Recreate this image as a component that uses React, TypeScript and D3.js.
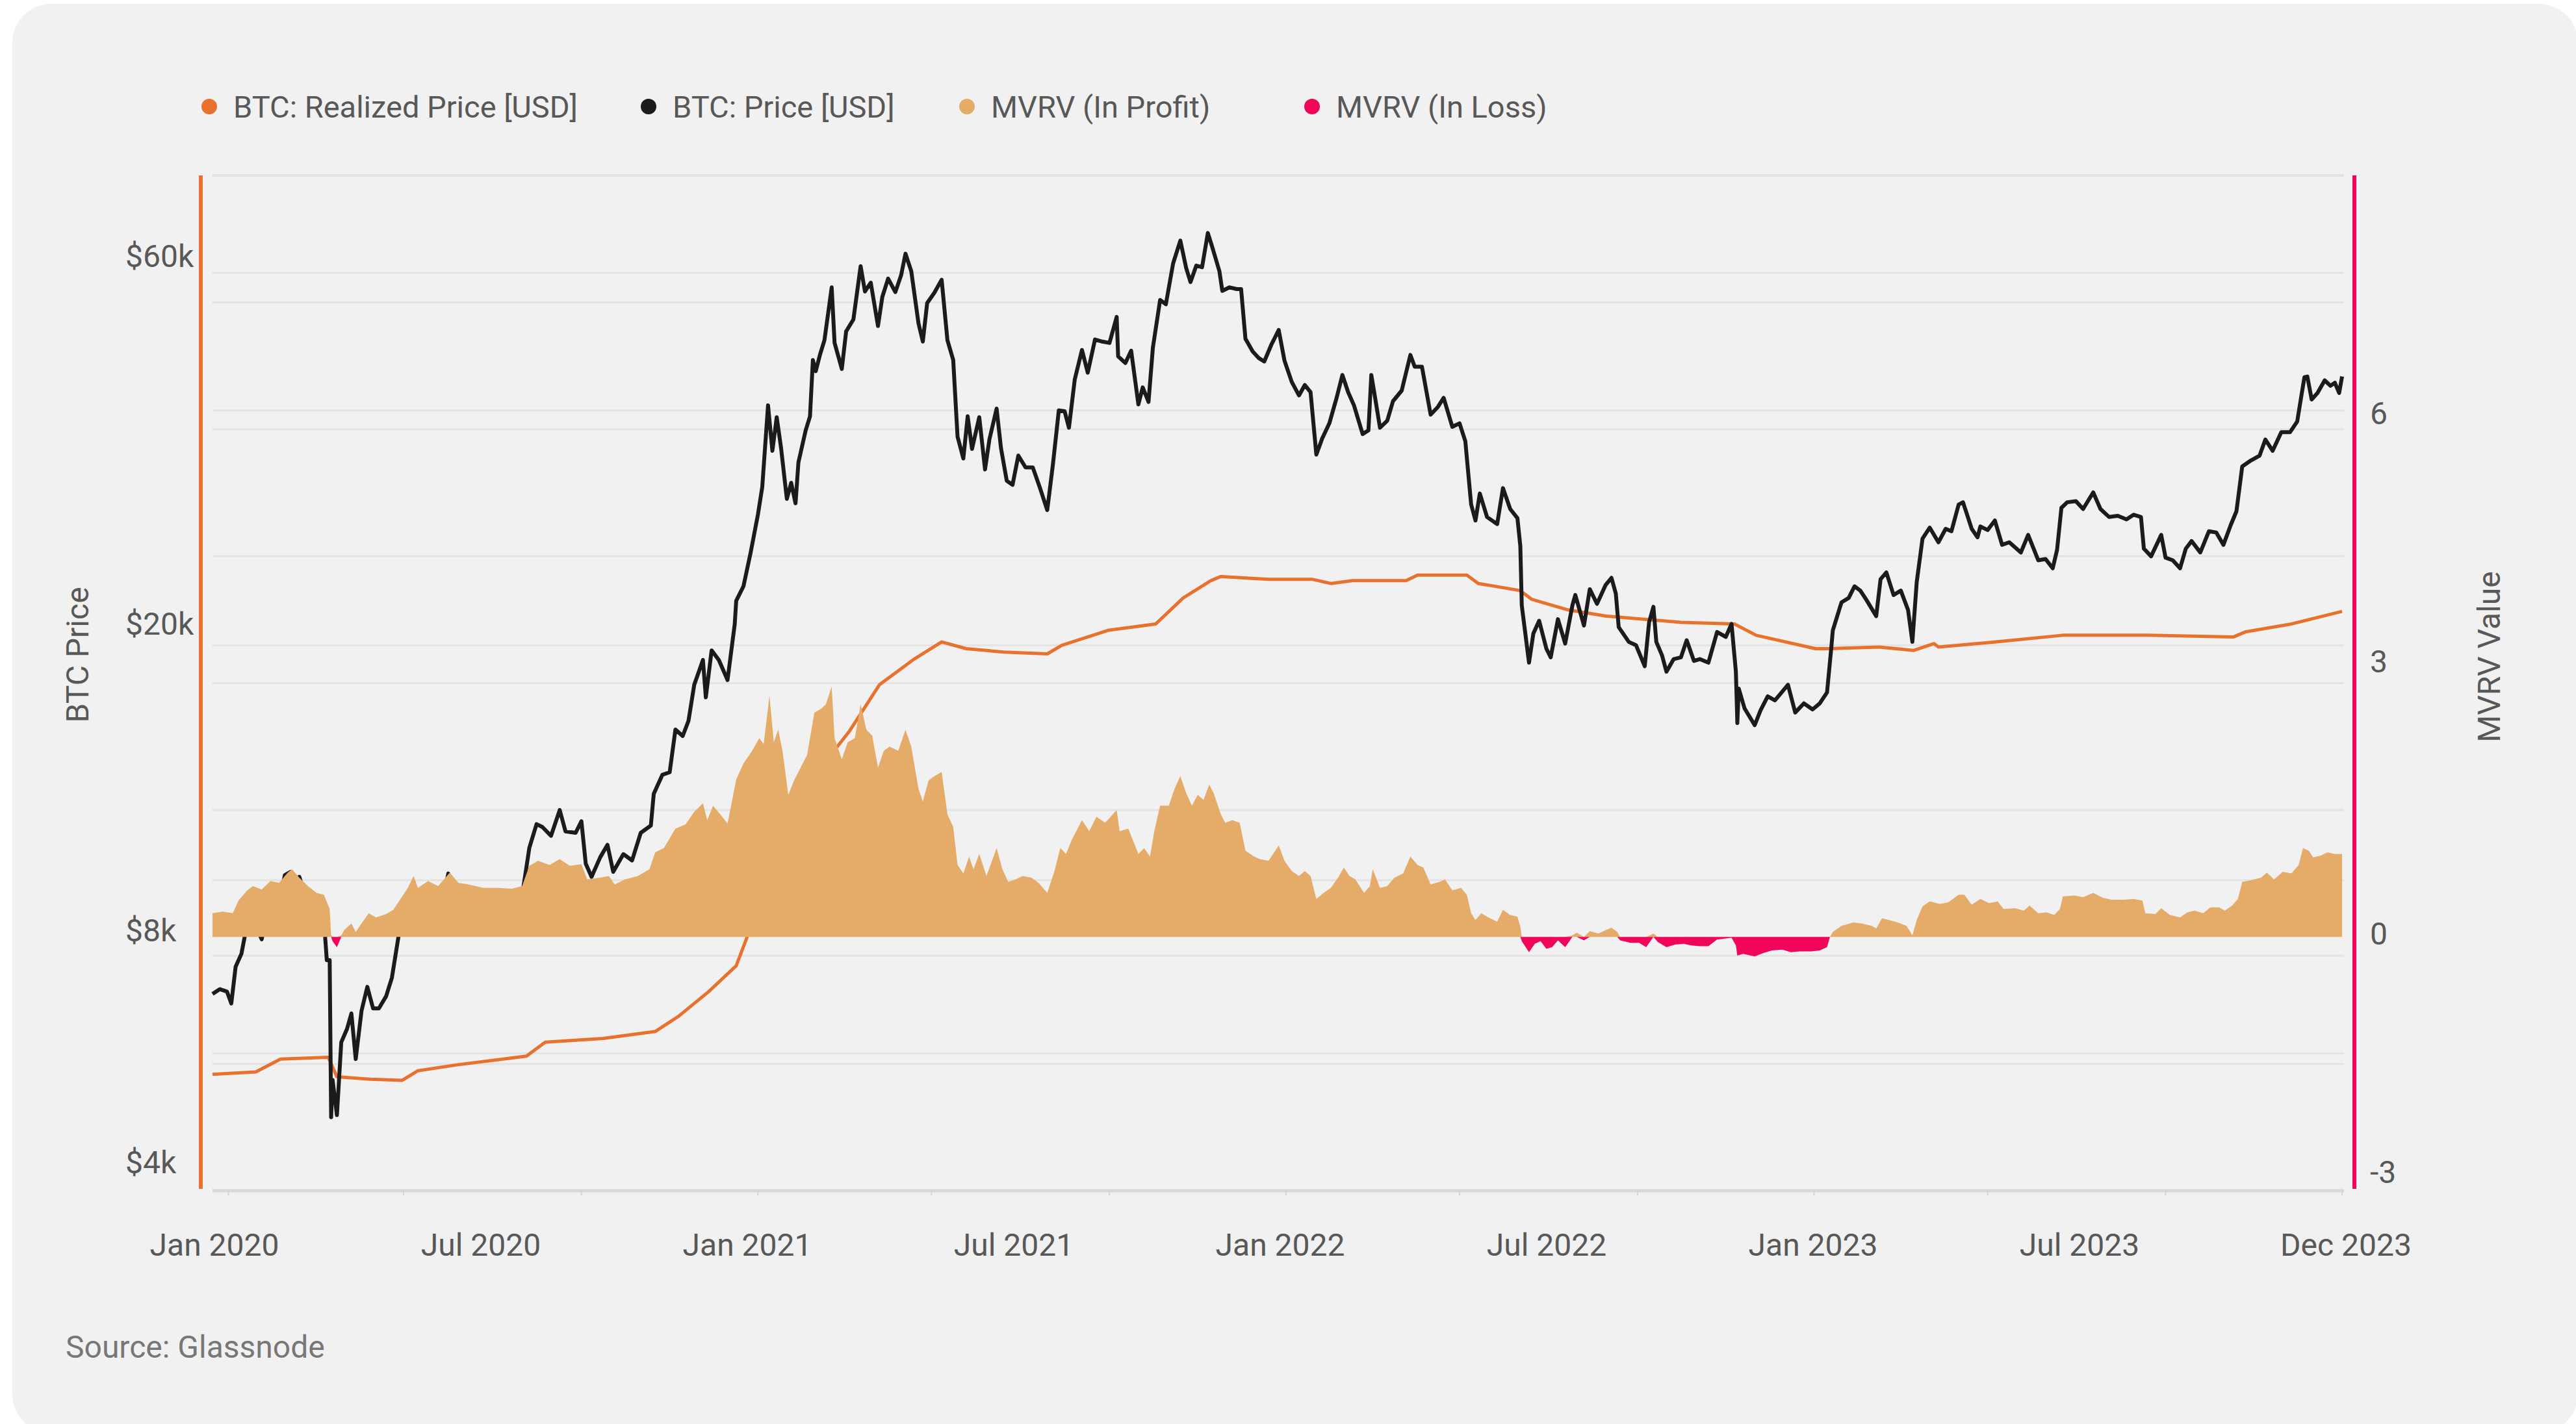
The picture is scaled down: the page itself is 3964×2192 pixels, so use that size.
import React from 'react';
import * as d3 from 'd3';

// canvas size
const width = 3964;
const height = 2192;

// BTC price [USD]
const btcPrice: [string, number][] = [
  ['2019-12-21', 7150], ['2019-12-26', 7250], ['2019-12-31', 7200], ['2020-01-03', 6950], ['2020-01-06', 7750],
  ['2020-01-10', 8050], ['2020-01-14', 8800], ['2020-01-18', 8900], ['2020-01-24', 8400], ['2020-01-30', 9500],
  ['2020-02-04', 9150], ['2020-02-09', 10150], ['2020-02-13', 10250], ['2020-02-17', 9700], ['2020-02-19', 10100],
  ['2020-02-25', 9300], ['2020-03-02', 8900], ['2020-03-07', 8900], ['2020-03-09', 7900], ['2020-03-11', 7900],
  ['2020-03-12', 4970], ['2020-03-13', 5550], ['2020-03-16', 5000], ['2020-03-19', 6200], ['2020-03-23', 6450],
  ['2020-03-26', 6750], ['2020-03-29', 5900], ['2020-04-02', 6800], ['2020-04-06', 7300], ['2020-04-10', 6850],
  ['2020-04-14', 6850], ['2020-04-19', 7100], ['2020-04-23', 7500], ['2020-04-29', 8800], ['2020-05-04', 8900],
  ['2020-05-08', 9950], ['2020-05-10', 8600], ['2020-05-16', 9400], ['2020-05-20', 9500], ['2020-05-25', 8800],
  ['2020-06-01', 10200], ['2020-06-06', 9650], ['2020-06-11', 9300], ['2020-06-18', 9400], ['2020-06-25', 9250],
  ['2020-07-01', 9200], ['2020-07-08', 9400], ['2020-07-15', 9200], ['2020-07-22', 9550], ['2020-07-27', 11000],
  ['2020-08-01', 11800], ['2020-08-05', 11700], ['2020-08-11', 11400], ['2020-08-17', 12300], ['2020-08-21', 11550],
  ['2020-08-28', 11500], ['2020-09-01', 11900], ['2020-09-04', 10500], ['2020-09-08', 10100], ['2020-09-14', 10700],
  ['2020-09-19', 11100], ['2020-09-23', 10250], ['2020-09-30', 10800], ['2020-10-06', 10600], ['2020-10-12', 11500],
  ['2020-10-19', 11750], ['2020-10-21', 12900], ['2020-10-27', 13650], ['2020-11-01', 13750], ['2020-11-05', 15600],
  ['2020-11-10', 15300], ['2020-11-14', 16000], ['2020-11-18', 17800], ['2020-11-24', 19150], ['2020-11-26', 17150],
  ['2020-11-30', 19700], ['2020-12-05', 19150], ['2020-12-11', 18050], ['2020-12-16', 21300], ['2020-12-17', 22800],
  ['2020-12-22', 23800], ['2020-12-27', 26300], ['2021-01-01', 29400], ['2021-01-04', 31900], ['2021-01-08', 40600],
  ['2021-01-11', 35500], ['2021-01-14', 39200], ['2021-01-17', 35800], ['2021-01-21', 30800], ['2021-01-24', 32300],
  ['2021-01-27', 30400], ['2021-01-29', 34300], ['2021-02-03', 37700], ['2021-02-06', 39300], ['2021-02-08', 46400],
  ['2021-02-10', 44900], ['2021-02-13', 47200], ['2021-02-16', 49200], ['2021-02-21', 57500], ['2021-02-23', 48800],
  ['2021-02-28', 45200], ['2021-03-03', 50500], ['2021-03-08', 52300], ['2021-03-13', 61200], ['2021-03-16', 56800],
  ['2021-03-20', 58300], ['2021-03-25', 51300], ['2021-03-28', 55900], ['2021-04-01', 59000], ['2021-04-06', 56700],
  ['2021-04-10', 59600], ['2021-04-13', 63500], ['2021-04-17', 60300], ['2021-04-22', 51700], ['2021-04-25', 49000],
  ['2021-04-28', 54900], ['2021-05-03', 56600], ['2021-05-08', 58800], ['2021-05-12', 49200], ['2021-05-16', 46400],
  ['2021-05-19', 37000], ['2021-05-23', 34700], ['2021-05-26', 39300], ['2021-05-29', 35700], ['2021-06-03', 39200],
  ['2021-06-07', 33600], ['2021-06-10', 36700], ['2021-06-15', 40200], ['2021-06-18', 35800], ['2021-06-22', 32500],
  ['2021-06-26', 32100], ['2021-06-30', 35000], ['2021-07-05', 33800], ['2021-07-10', 33800], ['2021-07-15', 31800],
  ['2021-07-20', 29800], ['2021-07-24', 34200], ['2021-07-28', 40000], ['2021-08-01', 39900], ['2021-08-04', 38000],
  ['2021-08-08', 43800], ['2021-08-13', 47800], ['2021-08-17', 44700], ['2021-08-22', 49300], ['2021-08-27', 49000],
  ['2021-09-01', 48800], ['2021-09-06', 52700], ['2021-09-07', 46900], ['2021-09-12', 46000], ['2021-09-16', 47700],
  ['2021-09-21', 40700], ['2021-09-24', 42800], ['2021-09-28', 41000], ['2021-10-01', 48100], ['2021-10-06', 55400],
  ['2021-10-10', 54700], ['2021-10-15', 61700], ['2021-10-20', 66000], ['2021-10-24', 60900], ['2021-10-27', 58400],
  ['2021-10-31', 61300], ['2021-11-04', 61000], ['2021-11-08', 67500], ['2021-11-11', 64800], ['2021-11-16', 60300],
  ['2021-11-18', 56900], ['2021-11-23', 57500], ['2021-11-28', 57200], ['2021-12-01', 57200], ['2021-12-04', 49400],
  ['2021-12-09', 47600], ['2021-12-13', 46700], ['2021-12-17', 46200], ['2021-12-22', 48600], ['2021-12-27', 50700],
  ['2021-12-31', 46300], ['2022-01-05', 43500], ['2022-01-10', 41800], ['2022-01-14', 43100], ['2022-01-18', 42200],
  ['2022-01-22', 35100], ['2022-01-26', 36800], ['2022-01-31', 38500], ['2022-02-05', 41500], ['2022-02-09', 44400],
  ['2022-02-13', 42200], ['2022-02-17', 40600], ['2022-02-23', 37300], ['2022-02-27', 37700], ['2022-03-01', 44400],
  ['2022-03-03', 42200], ['2022-03-07', 38000], ['2022-03-12', 38800], ['2022-03-16', 41100], ['2022-03-22', 42400],
  ['2022-03-28', 47100], ['2022-03-31', 45500], ['2022-04-05', 45500], ['2022-04-11', 39500], ['2022-04-16', 40400],
  ['2022-04-20', 41500], ['2022-04-26', 38100], ['2022-05-01', 38500], ['2022-05-05', 36500], ['2022-05-09', 30300],
  ['2022-05-12', 28900], ['2022-05-15', 31300], ['2022-05-20', 29200], ['2022-05-27', 28600], ['2022-05-31', 31800],
  ['2022-06-05', 29900], ['2022-06-10', 29100], ['2022-06-12', 26800], ['2022-06-13', 22500], ['2022-06-18', 19000],
  ['2022-06-21', 20700], ['2022-06-25', 21500], ['2022-06-30', 19800], ['2022-07-03', 19300], ['2022-07-08', 21600],
  ['2022-07-13', 20100], ['2022-07-18', 22500], ['2022-07-20', 23200], ['2022-07-26', 21200], ['2022-07-30', 23600],
  ['2022-08-04', 22600], ['2022-08-10', 23900], ['2022-08-14', 24400], ['2022-08-17', 23300], ['2022-08-19', 21100],
  ['2022-08-26', 20200], ['2022-08-31', 20000], ['2022-09-06', 18800], ['2022-09-09', 21400], ['2022-09-12', 22400],
  ['2022-09-14', 20200], ['2022-09-18', 19400], ['2022-09-21', 18500], ['2022-09-26', 19200], ['2022-10-01', 19300],
  ['2022-10-05', 20300], ['2022-10-10', 19100], ['2022-10-14', 19200], ['2022-10-20', 19000], ['2022-10-26', 20800],
  ['2022-11-01', 20500], ['2022-11-05', 21300], ['2022-11-08', 18500], ['2022-11-09', 15900], ['2022-11-10', 17600],
  ['2022-11-14', 16600], ['2022-11-21', 15800], ['2022-11-25', 16500], ['2022-11-30', 17200], ['2022-12-05', 17000],
  ['2022-12-14', 17800], ['2022-12-19', 16400], ['2022-12-25', 16850], ['2022-12-31', 16550], ['2023-01-05', 16850],
  ['2023-01-10', 17400], ['2023-01-13', 19900], ['2023-01-14', 20900], ['2023-01-20', 22700], ['2023-01-25', 23000],
  ['2023-01-29', 23800], ['2023-02-02', 23500], ['2023-02-06', 22900], ['2023-02-13', 21800], ['2023-02-16', 24300],
  ['2023-02-20', 24800], ['2023-02-25', 23200], ['2023-03-02', 23500], ['2023-03-07', 22200], ['2023-03-10', 20200],
  ['2023-03-13', 24100], ['2023-03-17', 27400], ['2023-03-22', 28300], ['2023-03-28', 27100], ['2023-04-02', 28200],
  ['2023-04-06', 28000], ['2023-04-11', 30300], ['2023-04-14', 30500], ['2023-04-20', 28200], ['2023-04-24', 27500],
  ['2023-04-26', 28400], ['2023-05-01', 28100], ['2023-05-06', 28900], ['2023-05-11', 26900], ['2023-05-16', 27100],
  ['2023-05-24', 26300], ['2023-05-29', 27700], ['2023-06-05', 25700], ['2023-06-10', 25800], ['2023-06-15', 25100],
  ['2023-06-18', 26500], ['2023-06-21', 30000], ['2023-06-25', 30500], ['2023-07-01', 30600], ['2023-07-06', 29900],
  ['2023-07-13', 31400], ['2023-07-18', 29900], ['2023-07-24', 29200], ['2023-07-30', 29300], ['2023-08-05', 29000],
  ['2023-08-10', 29400], ['2023-08-15', 29200], ['2023-08-17', 26600], ['2023-08-22', 26000], ['2023-08-29', 27700],
  ['2023-09-01', 25900], ['2023-09-06', 25700], ['2023-09-11', 25100], ['2023-09-15', 26600], ['2023-09-19', 27200],
  ['2023-09-25', 26300], ['2023-10-01', 28000], ['2023-10-06', 27900], ['2023-10-11', 26900], ['2023-10-16', 28500],
  ['2023-10-20', 29700], ['2023-10-24', 33900], ['2023-10-30', 34500], ['2023-11-05', 35000], ['2023-11-09', 36700],
  ['2023-11-14', 35500], ['2023-11-20', 37500], ['2023-11-26', 37500], ['2023-12-01', 38700], ['2023-12-04', 41900],
  ['2023-12-06', 44100], ['2023-12-08', 44200], ['2023-12-11', 41300], ['2023-12-15', 42100], ['2023-12-20', 43700],
  ['2023-12-24', 43000], ['2023-12-27', 43400], ['2023-12-30', 42100], ['2024-01-01', 44200],
];

// BTC realized price [USD]
const realizedPrice: [string, number][] = [
  ['2019-12-21', 5640], ['2020-01-20', 5680], ['2020-02-06', 5900], ['2020-03-10', 5930], ['2020-03-16', 5600],
  ['2020-04-08', 5560], ['2020-04-30', 5540], ['2020-05-11', 5700], ['2020-06-07', 5800], ['2020-07-25', 5950],
  ['2020-08-07', 6200], ['2020-09-16', 6270], ['2020-10-22', 6400], ['2020-11-07', 6690], ['2020-11-28', 7200],
  ['2020-12-17', 7770], ['2020-12-25', 8500], ['2021-01-10', 10000], ['2021-01-25', 11500], ['2021-02-10', 13300],
  ['2021-02-22', 14600], ['2021-03-05', 15500], ['2021-03-26', 17800], ['2021-04-19', 19200], ['2021-05-08', 20200],
  ['2021-05-25', 19800], ['2021-06-20', 19600], ['2021-07-20', 19500], ['2021-07-30', 20000], ['2021-08-31', 20900],
  ['2021-10-03', 21300], ['2021-10-22', 23000], ['2021-11-10', 24200], ['2021-11-17', 24500], ['2021-12-20', 24300],
  ['2022-01-19', 24300], ['2022-02-01', 24000], ['2022-02-16', 24200], ['2022-03-25', 24200], ['2022-04-02', 24600],
  ['2022-05-06', 24600], ['2022-05-14', 24000], ['2022-06-12', 23500], ['2022-06-20', 22900], ['2022-07-15', 22200],
  ['2022-08-10', 21800], ['2022-10-01', 21400], ['2022-11-07', 21300], ['2022-11-22', 20600], ['2023-01-02', 19800],
  ['2023-01-11', 19800], ['2023-02-15', 19900], ['2023-03-11', 19700], ['2023-03-25', 20100], ['2023-03-28', 19900],
  ['2023-05-07', 20200], ['2023-06-22', 20600], ['2023-08-19', 20600], ['2023-10-18', 20500], ['2023-10-26', 20800],
  ['2023-11-27', 21300], ['2024-01-01', 22100],
];

// MVRV value (above 0 = in profit, below 0 = in loss)
const mvrv: [string, number][] = [
  ['2019-12-21', 0.28], ['2019-12-28', 0.3], ['2020-01-04', 0.28], ['2020-01-08', 0.43], ['2020-01-14', 0.55],
  ['2020-01-18', 0.6], ['2020-01-24', 0.56], ['2020-01-30', 0.66], ['2020-02-05', 0.64], ['2020-02-11', 0.76],
  ['2020-02-14', 0.8], ['2020-02-19', 0.7], ['2020-02-25', 0.6], ['2020-03-02', 0.52], ['2020-03-07', 0.5],
  ['2020-03-11', 0.33], ['2020-03-12', 0.02], ['2020-03-13', -0.05], ['2020-03-16', -0.12], ['2020-03-19', 0.02],
  ['2020-03-21', 0.08], ['2020-03-26', 0.16], ['2020-03-29', 0.06], ['2020-04-02', 0.16], ['2020-04-07', 0.28],
  ['2020-04-12', 0.23], ['2020-04-19', 0.27], ['2020-04-24', 0.32], ['2020-04-29', 0.45], ['2020-05-04', 0.58],
  ['2020-05-08', 0.72], ['2020-05-11', 0.58], ['2020-05-18', 0.66], ['2020-05-25', 0.6], ['2020-06-02', 0.76],
  ['2020-06-08', 0.64], ['2020-06-15', 0.62], ['2020-06-25', 0.58], ['2020-07-05', 0.58], ['2020-07-15', 0.57],
  ['2020-07-22', 0.6], ['2020-07-27', 0.84], ['2020-08-02', 0.9], ['2020-08-10', 0.85], ['2020-08-17', 0.92],
  ['2020-08-24', 0.84], ['2020-09-01', 0.86], ['2020-09-05', 0.68], ['2020-09-14', 0.7], ['2020-09-20', 0.72],
  ['2020-09-24', 0.62], ['2020-10-01', 0.68], ['2020-10-10', 0.72], ['2020-10-18', 0.8], ['2020-10-22', 1.0],
  ['2020-10-28', 1.05], ['2020-11-05', 1.28], ['2020-11-12', 1.33], ['2020-11-18', 1.48], ['2020-11-24', 1.58],
  ['2020-11-27', 1.38], ['2020-12-01', 1.55], ['2020-12-06', 1.45], ['2020-12-11', 1.34], ['2020-12-17', 1.86],
  ['2020-12-22', 2.05], ['2020-12-28', 2.2], ['2021-01-02', 2.35], ['2021-01-05', 2.28], ['2021-01-09', 2.85],
  ['2021-01-12', 2.3], ['2021-01-15', 2.45], ['2021-01-18', 2.2], ['2021-01-22', 1.68], ['2021-01-26', 1.85],
  ['2021-01-29', 1.95], ['2021-02-04', 2.15], ['2021-02-09', 2.65], ['2021-02-14', 2.7], ['2021-02-17', 2.75],
  ['2021-02-21', 2.96], ['2021-02-23', 2.35], ['2021-02-28', 2.1], ['2021-03-04', 2.3], ['2021-03-09', 2.35],
  ['2021-03-13', 2.75], ['2021-03-17', 2.45], ['2021-03-21', 2.38], ['2021-03-25', 2.0], ['2021-03-29', 2.2],
  ['2021-04-02', 2.25], ['2021-04-08', 2.2], ['2021-04-13', 2.45], ['2021-04-17', 2.25], ['2021-04-22', 1.75],
  ['2021-04-25', 1.6], ['2021-04-29', 1.85], ['2021-05-03', 1.9], ['2021-05-08', 1.95], ['2021-05-12', 1.45],
  ['2021-05-16', 1.3], ['2021-05-19', 0.85], ['2021-05-23', 0.75], ['2021-05-27', 0.95], ['2021-05-30', 0.8],
  ['2021-06-03', 0.98], ['2021-06-08', 0.72], ['2021-06-15', 1.05], ['2021-06-19', 0.8], ['2021-06-23', 0.65],
  ['2021-06-28', 0.68], ['2021-07-03', 0.72], ['2021-07-09', 0.7], ['2021-07-14', 0.64], ['2021-07-20', 0.52],
  ['2021-07-25', 0.78], ['2021-07-29', 1.05], ['2021-08-02', 0.98], ['2021-08-06', 1.15], ['2021-08-13', 1.38],
  ['2021-08-18', 1.25], ['2021-08-23', 1.42], ['2021-08-29', 1.35], ['2021-09-06', 1.5], ['2021-09-08', 1.25],
  ['2021-09-14', 1.28], ['2021-09-21', 0.98], ['2021-09-25', 1.05], ['2021-09-29', 0.95], ['2021-10-02', 1.25],
  ['2021-10-06', 1.55], ['2021-10-12', 1.55], ['2021-10-16', 1.75], ['2021-10-20', 1.9], ['2021-10-24', 1.7],
  ['2021-10-28', 1.55], ['2021-11-01', 1.68], ['2021-11-05', 1.62], ['2021-11-09', 1.8], ['2021-11-12', 1.7],
  ['2021-11-17', 1.45], ['2021-11-20', 1.35], ['2021-11-25', 1.38], ['2021-11-30', 1.35], ['2021-12-04', 1.02],
  ['2021-12-10', 0.95], ['2021-12-14', 0.92], ['2021-12-20', 0.9], ['2021-12-27', 1.08], ['2021-12-31', 0.9],
  ['2022-01-05', 0.78], ['2022-01-10', 0.72], ['2022-01-14', 0.78], ['2022-01-18', 0.72], ['2022-01-22', 0.45],
  ['2022-01-27', 0.52], ['2022-02-01', 0.58], ['2022-02-06', 0.7], ['2022-02-10', 0.82], ['2022-02-14', 0.72],
  ['2022-02-18', 0.68], ['2022-02-24', 0.52], ['2022-02-28', 0.6], ['2022-03-02', 0.8], ['2022-03-07', 0.58],
  ['2022-03-12', 0.6], ['2022-03-17', 0.7], ['2022-03-23', 0.75], ['2022-03-28', 0.95], ['2022-04-02', 0.85],
  ['2022-04-06', 0.82], ['2022-04-11', 0.62], ['2022-04-17', 0.65], ['2022-04-21', 0.68], ['2022-04-26', 0.55],
  ['2022-05-02', 0.58], ['2022-05-06', 0.5], ['2022-05-09', 0.28], ['2022-05-12', 0.2], ['2022-05-16', 0.28],
  ['2022-05-22', 0.22], ['2022-05-27', 0.18], ['2022-05-31', 0.32], ['2022-06-05', 0.26], ['2022-06-10', 0.24],
  ['2022-06-12', 0.12], ['2022-06-13', -0.05], ['2022-06-18', -0.18], ['2022-06-22', -0.08], ['2022-06-26', -0.05],
  ['2022-06-30', -0.14], ['2022-07-04', -0.12], ['2022-07-08', -0.04], ['2022-07-13', -0.12], ['2022-07-18', 0.02],
  ['2022-07-21', 0.05], ['2022-07-26', -0.04], ['2022-07-30', 0.07], ['2022-08-05', 0.04], ['2022-08-10', 0.08],
  ['2022-08-14', 0.11], ['2022-08-18', 0.06], ['2022-08-20', -0.04], ['2022-08-27', -0.07], ['2022-09-02', -0.07],
  ['2022-09-07', -0.12], ['2022-09-12', 0.04], ['2022-09-15', -0.06], ['2022-09-21', -0.12], ['2022-09-27', -0.09],
  ['2022-10-03', -0.08], ['2022-10-08', -0.1], ['2022-10-14', -0.11], ['2022-10-20', -0.11], ['2022-10-26', -0.03],
  ['2022-11-05', -0.01], ['2022-11-08', -0.1], ['2022-11-09', -0.22], ['2022-11-13', -0.2], ['2022-11-21', -0.23],
  ['2022-11-27', -0.19], ['2022-12-03', -0.16], ['2022-12-10', -0.15], ['2022-12-16', -0.18], ['2022-12-22', -0.17],
  ['2022-12-30', -0.17], ['2023-01-05', -0.16], ['2023-01-10', -0.12], ['2023-01-12', 0.0], ['2023-01-14', 0.06],
  ['2023-01-20', 0.13], ['2023-01-28', 0.17], ['2023-02-03', 0.16], ['2023-02-10', 0.13], ['2023-02-13', 0.1],
  ['2023-02-17', 0.22], ['2023-02-22', 0.2], ['2023-02-28', 0.17], ['2023-03-06', 0.13], ['2023-03-10', 0.02],
  ['2023-03-13', 0.2], ['2023-03-17', 0.36], ['2023-03-22', 0.42], ['2023-03-29', 0.39], ['2023-04-04', 0.41],
  ['2023-04-11', 0.5], ['2023-04-15', 0.5], ['2023-04-20', 0.38], ['2023-04-26', 0.45], ['2023-05-02', 0.4],
  ['2023-05-08', 0.42], ['2023-05-12', 0.33], ['2023-05-20', 0.34], ['2023-05-26', 0.31], ['2023-05-30', 0.37],
  ['2023-06-05', 0.28], ['2023-06-11', 0.29], ['2023-06-16', 0.26], ['2023-06-20', 0.33], ['2023-06-22', 0.48],
  ['2023-06-30', 0.49], ['2023-07-06', 0.47], ['2023-07-13', 0.52], ['2023-07-20', 0.46], ['2023-07-26', 0.44],
  ['2023-08-03', 0.44], ['2023-08-10', 0.45], ['2023-08-16', 0.43], ['2023-08-18', 0.28], ['2023-08-25', 0.27],
  ['2023-08-29', 0.34], ['2023-09-04', 0.26], ['2023-09-11', 0.23], ['2023-09-16', 0.29], ['2023-09-21', 0.31],
  ['2023-09-27', 0.28], ['2023-10-02', 0.35], ['2023-10-08', 0.35], ['2023-10-12', 0.31], ['2023-10-17', 0.37],
  ['2023-10-21', 0.45], ['2023-10-24', 0.65], ['2023-10-30', 0.67], ['2023-11-06', 0.7], ['2023-11-10', 0.76],
  ['2023-11-15', 0.68], ['2023-11-21', 0.77], ['2023-11-27', 0.75], ['2023-12-02', 0.85], ['2023-12-05', 1.05],
  ['2023-12-09', 1.02], ['2023-12-12', 0.94], ['2023-12-17', 0.96], ['2023-12-22', 1.0], ['2023-12-27', 0.98],
  ['2024-01-01', 0.98],
];

// axis ticks and labels
const xLabels = ['Jan 2020', 'Jul 2020', 'Jan 2021', 'Jul 2021', 'Jan 2022', 'Jul 2022', 'Jan 2023', 'Jul 2023', 'Dec 2023'];
const priceTicks = [4000, 8000, 20000, 60000];
const priceTickLabels = ['$4k', '$8k', '$20k', '$60k'];
const priceGrid = [6000, 8000, 10000, 20000, 40000, 60000, 80000];
const mvrvTicks = [-3, 0, 3, 6];
const mvrvGrid = [-1.5, 1.5, 3, 4.5, 6, 7.5, 9];

const legend = [
  { label: 'BTC: Realized Price [USD]', color: '#E8712E', x: 322 },
  { label: 'BTC: Price [USD]', color: '#1b1b1b', x: 998 },
  { label: 'MVRV (In Profit)', color: '#E5AC69', x: 1488 },
  { label: 'MVRV (In Loss)', color: '#F1055B', x: 2019 },
];

const parse = d3.timeParse('%Y-%m-%d');
const FONT = 'Roboto, "Noto Sans", sans-serif';
const TEXT = '#585858';

const App = () => {
  const top = 270;
  const bottom = 1833;
  const left = 327;
  const right = 3604;

  const price = btcPrice.map(([d, v]) => ({ date: parse(d) as Date, value: v }));
  const realized = realizedPrice.map(([d, v]) => ({ date: parse(d) as Date, value: v }));
  const mv = mvrv.map(([d, v]) => ({ date: parse(d) as Date, value: v }));

  const x = d3.scaleTime()
    .domain([parse('2019-12-21') as Date, parse('2024-01-01') as Date])
    .range([left, right]);
  const yPrice = d3.scaleLog().domain([4000, 80000]).range([bottom, top]);
  const yMvrv = d3.scaleLinear().domain([-3, 9]).range([bottom, top]);

  // tick labels sit a little above their gridlines
  const yPriceLabel = d3.scaleLog().domain([4000, 80000]).range([1789, 245]);
  const yMvrvLabel = d3.scaleLinear().domain([-3, 0, 3, 6]).range([1804, 1437, 1018, 636]);
  const xLabel = d3.scalePoint<string>().domain(xLabels).range([330, 3610]);

  const line = d3.line<{ date: Date; value: number }>()
    .x((d) => x(d.date))
    .y((d) => yPrice(d.value));

  const profitArea = d3.area<{ date: Date; value: number }>()
    .x((d) => x(d.date))
    .y0(yMvrv(0))
    .y1((d) => yMvrv(Math.max(0, d.value)));
  const lossArea = d3.area<{ date: Date; value: number }>()
    .x((d) => x(d.date))
    .y0(yMvrv(0))
    .y1((d) => yMvrv(Math.min(0, d.value)));

  const monthTicks = x.ticks(d3.timeMonth.every(4) as d3.TimeInterval);

  return (
    <svg
      width={width}
      height={height}
      style={{ position: 'absolute', left: 0, top: 0, background: '#ffffff' }}
      fontFamily={FONT}
    >
      <rect x={19} y={6} width={3948} height={2200} rx={60} fill="#f1f1f1" />

      {/* legend */}
      {legend.map((l) => (
        <g key={l.label}>
          <circle cx={l.x} cy={164} r={12} fill={l.color} />
          <text x={l.x + 37} y={164} dy="0.36em" fontSize={47} fill={TEXT}>
            {l.label}
          </text>
        </g>
      ))}

      {/* gridlines */}
      <line x1={left} x2={3607} y1={top} y2={top} stroke="#dedede" strokeWidth={4} />
      {priceGrid.map((v) => (
        <line key={'p' + v} x1={left} x2={3607} y1={yPrice(v)} y2={yPrice(v)} stroke="#e3e3e3" strokeWidth={3} />
      ))}
      {mvrvGrid.map((v) => (
        <line key={'m' + v} x1={left} x2={3607} y1={yMvrv(v)} y2={yMvrv(v)} stroke="#e3e3e3" strokeWidth={3} />
      ))}

      {/* x axis baseline */}
      <line x1={left} x2={3607} y1={bottom} y2={bottom} stroke="#d9d9d9" strokeWidth={5} />
      {monthTicks.map((t) => (
        <line key={+t} x1={x(t)} x2={x(t)} y1={bottom} y2={bottom + 7} stroke="#d4d4d4" strokeWidth={2} />
      ))}

      {/* lines */}
      <path d={line(realized) ?? ''} fill="none" stroke="#E8712E" strokeWidth={5} strokeLinejoin="round" />
      <path d={line(price) ?? ''} fill="none" stroke="#1b1b1b" strokeWidth={6} strokeLinejoin="round" />

      {/* MVRV areas */}
      <path d={profitArea(mv) ?? ''} fill="#E5AC69" />
      <path d={lossArea(mv) ?? ''} fill="#F1055B" />

      {/* axis lines */}
      <line x1={309} x2={309} y1={top} y2={1830} stroke="#E8712E" strokeWidth={6} />
      <line x1={3623} x2={3623} y1={top} y2={1830} stroke="#F1055B" strokeWidth={6} />

      {/* left ticks */}
      {priceTicks.map((v, i) => (
        <text key={v} x={193} y={yPriceLabel(v)} dy="0.36em" fontSize={48} fill={TEXT}>
          {priceTickLabels[i]}
        </text>
      ))}
      {/* right ticks */}
      {mvrvTicks.map((v) => (
        <text key={v} x={3647} y={yMvrvLabel(v)} dy="0.36em" fontSize={48} fill={TEXT}>
          {v < 0 ? '-' + Math.abs(v) : v}
        </text>
      ))}

      {/* x labels */}
      {xLabels.map((l) => (
        <text key={l} x={xLabel(l)} y={1933} textAnchor="middle" fontSize={48} fill={TEXT}>
          {l}
        </text>
      ))}

      {/* axis titles */}
      <text transform="translate(119,1008) rotate(-90)" textAnchor="middle" dy="0.36em" fontSize={48} fill={TEXT}>
        BTC Price
      </text>
      <text transform="translate(3830,1011) rotate(-90)" textAnchor="middle" dy="0.36em" fontSize={48} fill={TEXT}>
        MVRV Value
      </text>

      <text x={101} y={2073} dy="0.36em" fontSize={48} fill="#777777">
        Source: Glassnode
      </text>
    </svg>
  );
};

export default App;
